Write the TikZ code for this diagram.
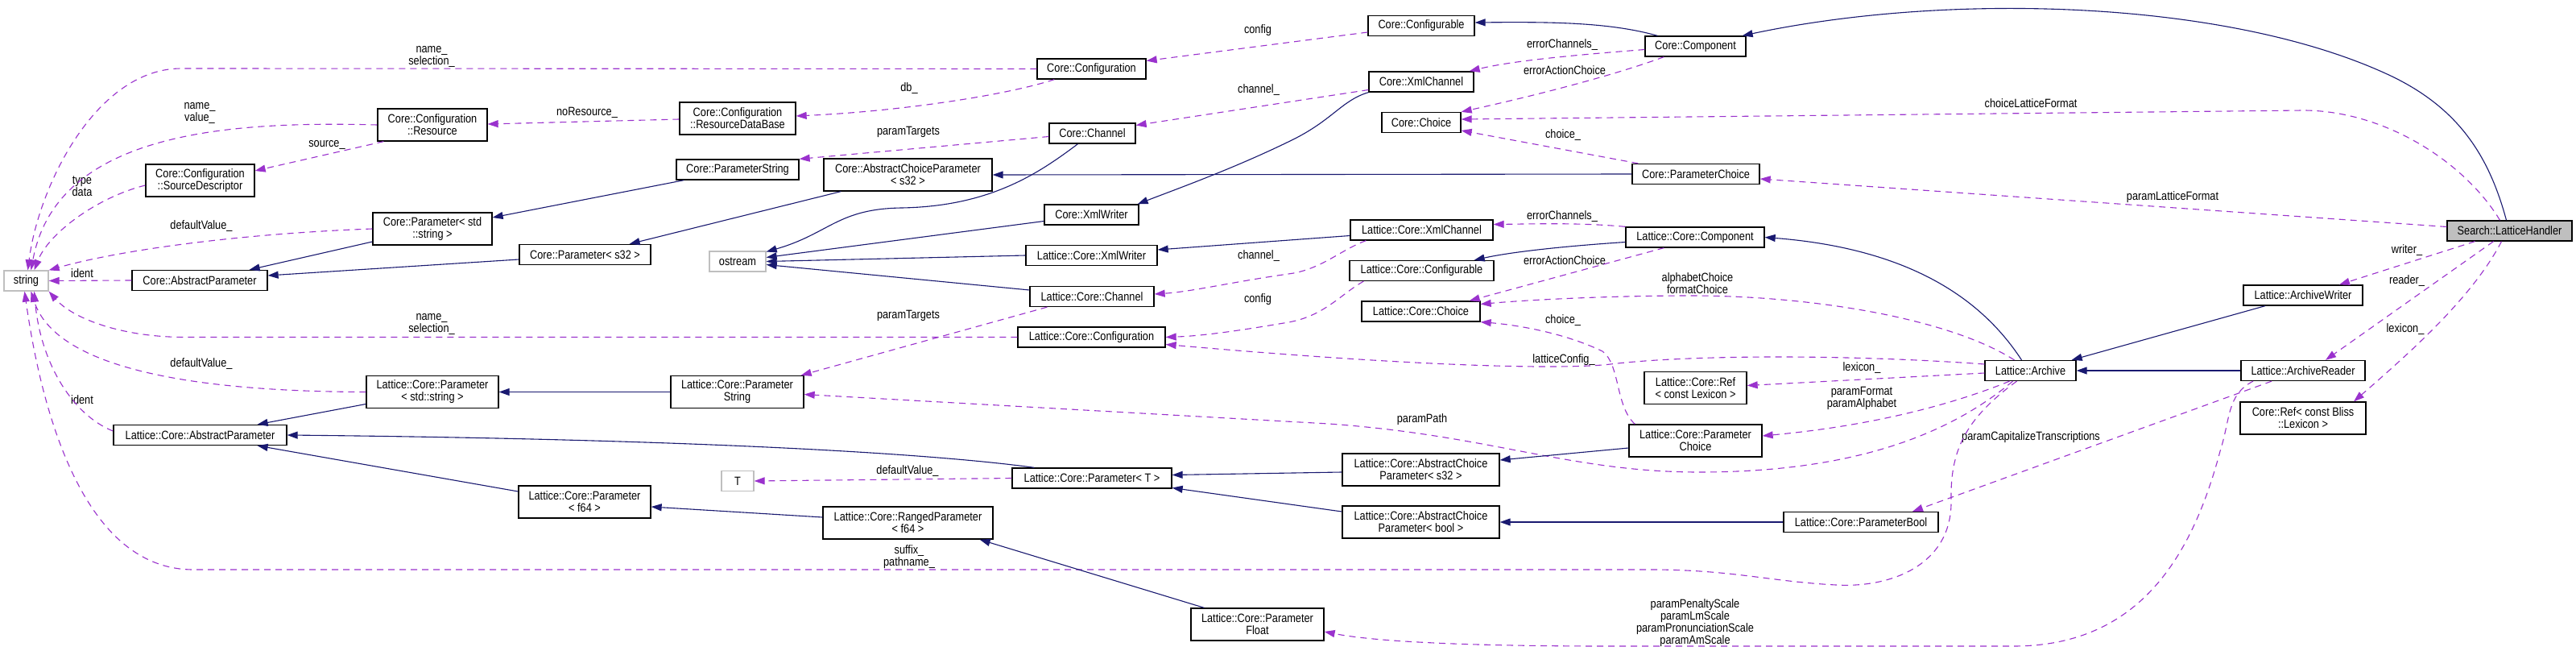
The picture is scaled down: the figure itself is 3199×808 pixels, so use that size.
\documentclass[tikz,border=0pt]{standalone}
\usepackage{fontspec}
\setmainfont{Liberation Sans}[FakeStretch=0.85]
\usepackage{tikz}
\usetikzlibrary{arrows.meta}
\definecolor{edgeblue}{HTML}{191970}
\definecolor{edgepurple}{HTML}{9A32CD}
\definecolor{extgray}{HTML}{BFBFBF}
\begin{document}
\begin{tikzpicture}[x=1pt,y=-1pt,font=\fontsize{15}{15}\selectfont,
  cls/.style={draw,line width=1.3pt,fill=white,inner sep=1pt,align=center,minimum height=25pt},
  ext/.style={cls,draw=extgray},
  lbl/.style={inner sep=0pt,align=center},
  inhedge/.style={draw=edgeblue,line width=1.1pt,-{Triangle[length=13pt,width=9pt]}},
  useedge/.style={draw=edgepurple,line width=1.1pt,dash pattern=on 8pt off 6pt,-{Triangle[length=13pt,width=9pt]}}]
\path[use as bounding box,fill=white] (0,0) rectangle (3199,808);
\node[ext,minimum width=55pt] (str) at (32.5,348.5) {string};
\node[cls,minimum width=136pt,minimum height=40pt] (cfgRes) at (537,155) {Core::Configuration\\::Resource};
\node[cls,minimum width=135pt,minimum height=40pt] (cfgSrc) at (248.5,224) {Core::Configuration\\::SourceDescriptor};
\node[cls,minimum width=148pt,minimum height=40pt] (parStd) at (537,284) {Core::Parameter< std\\::string >};
\node[cls,minimum width=168pt] (absPar) at (248,348) {Core::AbstractParameter};
\node[cls,minimum width=163pt] (parS32) at (726.5,316) {Core::Parameter< s32 >};
\node[cls,minimum width=135pt] (cfg) at (1355.5,85.5) {Core::Configuration};
\node[cls,minimum width=144pt,minimum height=40pt] (cfgDb) at (916,147) {Core::Configuration\\::ResourceDataBase};
\node[cls,minimum width=107pt] (chan) at (1356.5,165.5) {Core::Channel};
\node[cls,minimum width=152pt] (parStr) at (916,210.5) {Core::ParameterString};
\node[cls,minimum width=209pt,minimum height=40pt] (absCh) at (1127.5,217) {Core::AbstractChoiceParameter\\< s32 >};
\node[ext,minimum width=70pt] (ostr) at (916,324.5) {ostream};
\node[cls,minimum width=117pt] (xmlW) at (1355.5,266.5) {Core::XmlWriter};
\node[cls,minimum width=163pt] (lXmlW) at (1355.5,317) {Lattice::Core::XmlWriter};
\node[cls,minimum width=154pt] (lChan) at (1356,368) {Lattice::Core::Channel};
\node[cls,minimum width=132pt] (cfgbl) at (1765,32) {Core::Configurable};
\node[cls,minimum width=125pt] (comp) at (2105.5,57.5) {Core::Component};
\node[cls,minimum width=130pt] (xmlCh) at (1765,101.5) {Core::XmlChannel};
\node[cls,minimum width=98pt] (choice) at (1765,152) {Core::Choice};
\node[cls,minimum width=158pt] (parCh) at (2106,216) {Core::ParameterChoice};
\node[cls,minimum width=177pt] (lXmlCh) at (1765.5,285.5) {Lattice::Core::XmlChannel};
\node[cls,minimum width=172pt] (lComp) at (2105,294.5) {Lattice::Core::Component};
\node[cls,minimum width=179pt] (lCfgbl) at (1765.5,336) {Lattice::Core::Configurable};
\node[cls,minimum width=147pt] (lChoice) at (1764.5,386.5) {Lattice::Core::Choice};
\node[cls,fill=extgray,minimum width=155pt] (handler) at (3116.5,286.5) {Search::LatticeHandler};
\node[cls,minimum width=148pt] (arcW) at (2860,366.5) {Lattice::ArchiveWriter};
\node[cls,minimum width=164pt,minimum height=40pt] (lParStd) at (537,486.5) {Lattice::Core::Parameter\\< std::string >};
\node[cls,minimum width=215pt] (lAbsPar) at (248.5,540) {Lattice::Core::AbstractParameter};
\node[cls,minimum width=164pt,minimum height=40pt] (lParF64) at (726,623) {Lattice::Core::Parameter\\< f64 >};
\node[cls,minimum width=183pt] (lCfg) at (1355.5,418.5) {Lattice::Core::Configuration};
\node[cls,minimum width=165pt,minimum height=40pt] (lParStr) at (915.5,486.5) {Lattice::Core::Parameter\\String};
\node[ext,minimum width=40pt] (tT) at (916,597) {T};
\node[cls,minimum width=198pt] (lParT) at (1356,593.5) {Lattice::Core::Parameter< T >};
\node[cls,minimum width=211pt,minimum height=40pt] (lRanged) at (1127.5,649) {Lattice::Core::RangedParameter\\< f64 >};
\node[cls,minimum width=165pt,minimum height=40pt] (lParFl) at (1561.5,775) {Lattice::Core::Parameter\\Float};
\node[cls,minimum width=127pt,minimum height=40pt] (lRef) at (2105.5,481.5) {Lattice::Core::Ref\\< const Lexicon >};
\node[cls,minimum width=165pt,minimum height=40pt] (lParCh) at (2105.5,547) {Lattice::Core::Parameter\\Choice};
\node[cls,minimum width=195pt,minimum height=40pt] (lAbsChS) at (1764.5,583) {Lattice::Core::AbstractChoice\\Parameter< s32 >};
\node[cls,minimum width=195pt,minimum height=40pt] (lAbsChB) at (1764.5,648) {Lattice::Core::AbstractChoice\\Parameter< bool >};
\node[cls,minimum width=192pt] (lParB) at (2311,648) {Lattice::Core::ParameterBool};
\node[cls,minimum width=113pt] (archive) at (2521.5,460) {Lattice::Archive};
\node[cls,minimum width=154pt] (arcR) at (2860,460) {Lattice::ArchiveReader};
\node[cls,minimum width=156pt,minimum height=40pt] (refBliss) at (2860,519) {Core::Ref< const Bliss\\::Lexicon >};

\node[lbl] (lbCfgStr) at (536,70) {name\_\\selection\_};
\node[lbl] (lbResStr) at (248,140) {name\_\\value\_};
\node[lbl] (lbSrc) at (406,180) {source\_};
\node[lbl] (lbType) at (102,231) {type\\data};
\node[lbl] (lbNoRes) at (729,140) {noResource\_};
\node[lbl] (lbDb) at (1129,110) {db\_};
\node[lbl] (lbCfgbl) at (1562,38) {config};
\node[lbl] (lbChan) at (1563,112) {channel\_};
\node[lbl] (lbTargets) at (1128,164) {paramTargets};
\node[lbl] (lbDefStd) at (250,281) {defaultValue\_};
\node[lbl] (lbIdent) at (102,339) {ident};
\node[lbl] (lbErrCh) at (1940,56) {errorChannels\_};
\node[lbl] (lbErrAct) at (1943,87) {errorActionChoice};
\node[lbl] (lbChoiceLF) at (2522,128) {choiceLatticeFormat};
\node[lbl] (lbChoice) at (1941,168) {choice\_};
\node[lbl] (lbParamLF) at (2698,245) {paramLatticeFormat};
\node[lbl] (lbWriter) at (2989,311) {writer\_};
\node[lbl] (lbReader) at (2989,349) {reader\_};
\node[lbl] (lbLexB) at (2987,409) {lexicon\_};
\node[lbl] (lbLErrCh) at (1940,269) {errorChannels\_};
\node[lbl] (lbLErrAct) at (1943,323) {errorActionChoice};
\node[lbl] (lbAlpha) at (2108,351.5) {alphabetChoice\\formatChoice};
\node[lbl] (lbLChoice) at (1941,398) {choice\_};
\node[lbl] (lbLChan) at (1563,318) {channel\_};
\node[lbl] (lbLCfg) at (1562,372) {config};
\node[lbl] (lbLTargets) at (1128,392) {paramTargets};
\node[lbl] (lbLCfgStr) at (536,402) {name\_\\selection\_};
\node[lbl] (lbLDef) at (250,452) {defaultValue\_};
\node[lbl] (lbLIdent) at (102,496) {ident};
\node[lbl] (lbLatCfg) at (1942,447) {latticeConfig\_};
\node[lbl] (lbLex) at (2312,457) {lexicon\_};
\node[lbl] (lbFmt) at (2312,494) {paramFormat\\paramAlphabet};
\node[lbl] (lbPath) at (1766,521) {paramPath};
\node[lbl] (lbCap) at (2522,543) {paramCapitalizeTranscriptions};
\node[lbl] (lbDefT) at (1127,585) {defaultValue\_};
\node[lbl] (lbSuffix) at (1129,691) {suffix\_\\pathname\_};
\node[lbl] (lbScale) at (2105,773) {paramPenaltyScale\\paramLmScale\\paramPronunciationScale\\paramAmScale};

\draw[useedge] (cfg.west) -- (225,85) .. controls (120,85) and (48,230) .. ([xshift=2]str.north);
\draw[useedge] (cfgRes.west) .. controls (280,150) and (70,165) .. ([xshift=6]str.north);
\draw[useedge] ([xshift=8]cfgRes.south west) -- ([yshift=12]cfgSrc.east);
\draw[useedge] ([yshift=-6]cfgSrc.west) .. controls (120,245) and (60,290) .. ([xshift=10]str.north);
\draw[useedge] ([yshift=-1]cfgDb.west) -- ([yshift=1]cfgRes.east);
\draw[useedge] ([xshift=22]cfg.south west) .. controls (1250,118) and (1120,138) .. ([yshift=3]cfgDb.east);
\draw[useedge] ([yshift=-8]cfgbl.west) -- ([yshift=10]cfg.east);
\draw[useedge] ([yshift=-10]xmlCh.west) -- ([yshift=10]chan.east);
\draw[useedge] ([yshift=-4]chan.west) -- (parStr.north east);
\draw[useedge] (parStd.west) .. controls (300,290) and (150,310) .. (str.north east);
\draw[useedge] (absPar.west) -- (str.east);
\draw[useedge] ([yshift=-4]comp.west) .. controls (1960,68) and (1880,75) .. ([xshift=-6]xmlCh.north east);
\draw[useedge] ([xshift=24]comp.south west) .. controls (2000,95) and (1900,120) .. (choice.north east);
\draw[useedge] ([xshift=-12]handler.north) .. controls (3060,200) and (2960,137) .. (2860,137) -- ([yshift=4]choice.east);
\draw[useedge] ([xshift=8]parCh.north west) -- ([yshift=-10]choice.east);
\draw[useedge] ([yshift=5]handler.west) -- ([yshift=-6]parCh.east);
\draw[useedge] ([xshift=-43]handler.south) -- ([xshift=45]arcW.north);
\draw[useedge] ([xshift=-20]handler.south) -- ([xshift=28]arcR.north);
\draw[useedge] ([xshift=-10]handler.south) .. controls (3070,370) and (2990,440) .. ([xshift=63]refBliss.north);
\draw[useedge] (lComp.north west) .. controls (1960,276) and (1900,278) .. ([yshift=7]lXmlCh.east);
\draw[useedge] ([xshift=48]lComp.south west) -- ([xshift=-14]lChoice.north east);
\draw[useedge] ([xshift=-20]archive.north) .. controls (2420,395) and (2250,367) .. (2100,367) .. controls (2000,367) and (1900,372) .. ([yshift=9]lChoice.east);
\draw[useedge] ([xshift=8]lParCh.north west) .. controls (2006,505) and (2012,452) .. (1990,436) .. controls (1940,412) and (1880,403) .. (lChoice.south east);
\draw[useedge] ([xshift=20]lXmlCh.south west) .. controls (1665,310) and (1640,335) .. (1600,340) .. controls (1530,350) and (1480,362) .. ([yshift=3]lChan.east);
\draw[useedge] ([xshift=18]lCfgbl.south west) .. controls (1665,365) and (1645,392) .. (1600,400) .. controls (1530,412) and (1490,417) .. (lCfg.east);
\draw[useedge] ([yshift=8]archive.west) .. controls (2300,440) and (2100,440) .. (2000,452) .. controls (1940,459) and (1760,455) .. ([yshift=-9]lCfg.east);
\draw[useedge] ([xshift=22]lChan.south west) -- ([xshift=-4]lParStr.north east);
\draw[useedge] ([yshift=-3]archive.west) -- ([yshift=3]lRef.east);
\draw[useedge] ([xshift=-26]archive.south) .. controls (2430,500) and (2330,528) .. ([yshift=6]lParCh.east);
\draw[useedge] ([xshift=-22]archive.south) .. controls (2420,540) and (2300,586) .. (2110,586) .. controls (1950,586) and (1850,540) .. (1650,526) -- ([yshift=-3]lParStr.east);
\draw[useedge] ([xshift=-17]archive.south) .. controls (2440,520) and (2422,560) .. (2423,620) .. controls (2425,700) and (2350,730) .. (2280,726) .. controls (2200,722) and (2150,707) .. (2050,707) -- (240,707) .. controls (100,707) and (50,500) .. ([xshift=-2]str.south);
\draw[useedge] ([xshift=-62]arcR.south) .. controls (2765,490) and (2770,520) .. (2757,560) .. controls (2720,700) and (2650,802) .. (2500,802) -- (2000,802) .. controls (1800,802) and (1700,795) .. ([yshift=-9]lParFl.east);
\draw[useedge] (lParStd.west) .. controls (250,486) and (70,460) .. ([xshift=6]str.south);
\draw[useedge] ([yshift=5]lAbsPar.west) .. controls (90,515) and (50,450) .. ([xshift=10]str.south);
\draw[useedge] (lCfg.west) -- (230,418.5) .. controls (150,418.5) and (90,395) .. (str.south east);
\draw[useedge] (lParT.west) -- (tT.east);
\draw[useedge] ([xshift=-39]arcR.south) -- ([xshift=64]lParB.north);

\draw[inhedge] ([xshift=16]comp.north west) .. controls (2000,28) and (1930,27) .. ([yshift=4]cfgbl.east);
\draw[inhedge] ([xshift=-4]handler.north) .. controls (3090,190) and (3050,130) .. (2960,90) .. controls (2760,0) and (2420,-10) .. ([xshift=-5]comp.north east);
\draw[inhedge] ([yshift=-6]parS32.west) -- ([yshift=6]absPar.east);
\draw[inhedge] ([yshift=-16]parStd.west) -- ([xshift=-23]absPar.north east);
\draw[inhedge] ([xshift=10]parStr.south west) -- ([yshift=14]parStd.east);
\draw[inhedge] ([xshift=22]absCh.south west) -- ([xshift=-27]parS32.north east);
\draw[inhedge] (parCh.west) -- (absCh.east);
\draw[inhedge] ([xshift=-18]chan.south) .. controls (1290,215) and (1230,256) .. (1120,258) .. controls (1040,259) and (1030,290) .. ([yshift=12]ostr.east);
\draw[inhedge] ([yshift=-8]xmlW.west) -- ([yshift=5]ostr.east);
\draw[inhedge] (lXmlW.west) -- (ostr.east);
\draw[inhedge] ([yshift=8]lChan.west) -- ([yshift=-4]ostr.east);
\draw[inhedge] (xmlCh.south west) .. controls (1665,125) and (1655,150) .. (1600,176) .. controls (1530,210) and (1460,235) .. ([xshift=-2]xmlW.north east);
\draw[inhedge] ([yshift=-7]lXmlCh.west) -- ([yshift=7]lXmlW.east);
\draw[inhedge] ([yshift=-6]lComp.west) .. controls (1950,305) and (1880,312) .. ([xshift=-25]lCfgbl.north east);
\draw[inhedge] ([xshift=-11]archive.north) .. controls (2470,385) and (2390,310) .. (lComp.east);
\draw[inhedge] ([xshift=-47]arcW.south) -- ([xshift=-6]archive.north east);
\draw[inhedge] (arcR.west) -- (archive.east);
\draw[inhedge] (lParStr.west) -- (lParStd.east);
\draw[inhedge] ([yshift=-15]lParStd.west) -- ([xshift=-37]lAbsPar.north east);
\draw[inhedge] ([xshift=28]lParT.north west) .. controls (1150,562) and (850,545) .. (lAbsPar.east);
\draw[inhedge] ([yshift=13]lParF64.west) -- ([xshift=-37]lAbsPar.south east);
\draw[inhedge] ([yshift=7]lRanged.west) -- ([yshift=-6]lParF64.east);
\draw[inhedge] ([xshift=17]lParFl.north west) -- ([xshift=-17]lRanged.south east);
\draw[inhedge] ([yshift=-3]lAbsChS.west) -- ([yshift=4]lParT.east);
\draw[inhedge] ([yshift=13]lAbsChB.west) -- ([yshift=-12]lParT.east);
\draw[inhedge] ([yshift=-9]lParCh.west) -- ([yshift=12]lAbsChS.east);
\draw[inhedge] (lParB.west) -- (lAbsChB.east);
\end{tikzpicture}
\end{document}
